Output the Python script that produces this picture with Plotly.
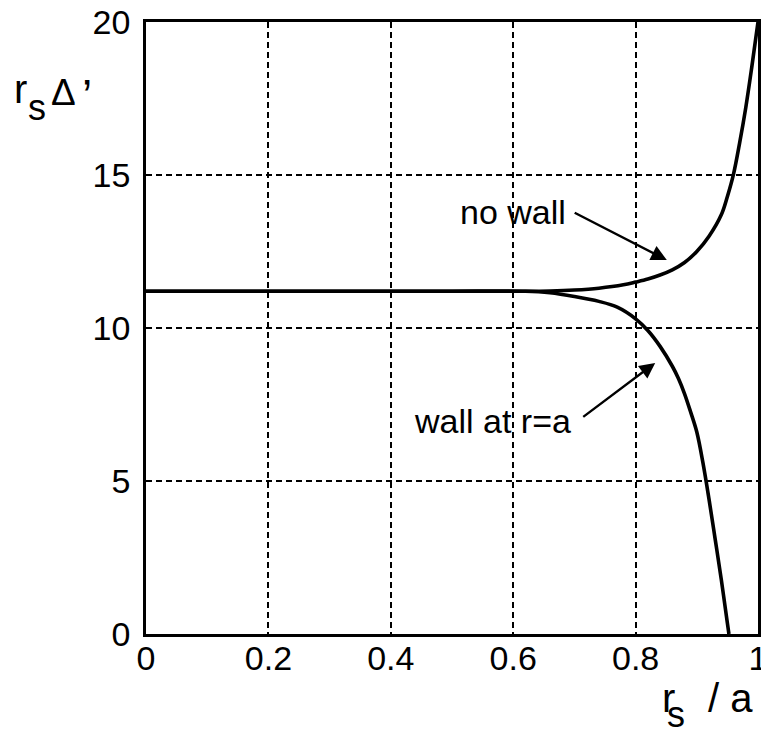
import plotly.graph_objects as go

# Data
x_nowall = [0.0, 0.1, 0.2, 0.3, 0.4, 0.5, 0.62, 0.66, 0.70, 0.74, 0.78, 0.80, 0.82, 0.84,
            0.86, 0.88, 0.90, 0.92, 0.94, 0.95, 0.96, 0.97, 0.98, 0.99, 1.0]
y_nowall = [11.2, 11.2, 11.2, 11.2, 11.2, 11.2, 11.2, 11.21, 11.24, 11.3, 11.41, 11.5, 11.6, 11.73,
            11.9, 12.14, 12.5, 13.0, 13.7, 14.3, 15.03, 16.05, 17.2, 18.55, 20.0]

x_wall = [0.0, 0.1, 0.2, 0.3, 0.4, 0.5, 0.62, 0.66, 0.70, 0.74, 0.77, 0.80, 0.82, 0.84,
          0.86, 0.87, 0.88, 0.89, 0.90, 0.91, 0.92, 0.93, 0.94, 0.95, 0.9525]
y_wall = [11.2, 11.2, 11.2, 11.2, 11.2, 11.2, 11.2, 11.15, 11.03, 10.87, 10.68, 10.3, 9.92, 9.4,
          8.75, 8.35, 7.85, 7.25, 6.6, 5.6, 4.4, 3.1, 1.78, 0.35, 0.0]

x_ticks = [0, 0.2, 0.4, 0.6, 0.8, 1]
x_tick_labels = ["0", "0.2", "0.4", "0.6", "0.8", "1"]
y_ticks = [0, 5, 10, 15, 20]
y_tick_labels = ["0", "5", "10", "15", "20"]

FONT = "Liberation Sans, Arial, Helvetica, sans-serif"
BLACK = "black"

fig = go.Figure()
for xs, ys in ((x_nowall, y_nowall), (x_wall, y_wall)):
    fig.add_trace(go.Scatter(x=xs, y=ys, mode="lines",
                             line=dict(color=BLACK, width=3.6, shape="spline", smoothing=1.0),
                             showlegend=False, hoverinfo="skip"))

axis_common = dict(showline=True, mirror=True, linecolor=BLACK, linewidth=2.8,
                   showgrid=True, gridcolor=BLACK, gridwidth=1.6, griddash="6px,4px",
                   zeroline=False, ticks="", ticklabeloverflow="allow",
                   tickfont=dict(family=FONT, size=34, color=BLACK))

fig.update_xaxes(range=[0, 1], tickvals=x_ticks, ticktext=x_tick_labels,
                 ticklabelstandoff=-8, **axis_common)
fig.update_yaxes(range=[0, 20], tickvals=y_ticks, ticktext=y_tick_labels,
                 ticklabelstandoff=6, **axis_common)

# arrows
fig.add_annotation(x=0.851, y=12.22, ax=0.698, ay=13.79, xref="x", yref="y",
                   axref="x", ayref="y", text="", showarrow=True,
                   arrowhead=2, arrowsize=1.3, arrowwidth=2.4, arrowcolor=BLACK)
fig.add_annotation(x=0.832, y=8.86, ax=0.712, ay=7.06, xref="x", yref="y",
                   axref="x", ayref="y", text="", showarrow=True,
                   arrowhead=2, arrowsize=1.3, arrowwidth=2.4, arrowcolor=BLACK)
# labels
fig.add_annotation(x=0.6895, y=13.79, xref="x", yref="y", text="no wall",
                   showarrow=False, xanchor="right", yanchor="middle",
                   font=dict(family=FONT, size=34, color=BLACK))
fig.add_annotation(x=0.698, y=6.96, xref="x", yref="y", text="wall at r=a",
                   showarrow=False, xanchor="right", yanchor="middle",
                   font=dict(family=FONT, size=34, color=BLACK))

# y-axis title: r_s Δ'
fig.add_annotation(x=-0.219, y=0.8905, xref="paper", yref="paper", text="r",
                   showarrow=False, xanchor="left", yanchor="middle",
                   font=dict(family=FONT, size=40, color=BLACK))
fig.add_annotation(x=-0.196, y=0.8605, xref="paper", yref="paper", text="s",
                   showarrow=False, xanchor="left", yanchor="middle",
                   font=dict(family=FONT, size=36, color=BLACK))
fig.add_annotation(x=-0.134, y=0.8845, xref="paper", yref="paper", text="Δ",
                   showarrow=False, xanchor="center", yanchor="middle",
                   font=dict(family=FONT, size=37, color=BLACK))
fig.add_annotation(x=-0.108, y=0.8797, xref="paper", yref="paper", text="’",
                   showarrow=False, xanchor="left", yanchor="middle",
                   font=dict(family=FONT, size=46, color=BLACK))

# x-axis title: r_s / a
fig.add_annotation(x=0.8399, y=-0.1046, xref="paper", yref="paper", text="r",
                   showarrow=False, xanchor="left", yanchor="middle",
                   font=dict(family=FONT, size=40, color=BLACK))
fig.add_annotation(x=0.848, y=-0.1315, xref="paper", yref="paper", text="s",
                   showarrow=False, xanchor="left", yanchor="middle",
                   font=dict(family=FONT, size=36, color=BLACK))
fig.add_annotation(x=0.915, y=-0.1046, xref="paper", yref="paper", text="/ a",
                   showarrow=False, xanchor="left", yanchor="middle",
                   font=dict(family=FONT, size=40, color=BLACK))

fig.update_layout(width=761, height=731,
                  margin=dict(l=146, r=3, t=22, b=97, autoexpand=False),
                  plot_bgcolor="white", paper_bgcolor="white",
                  showlegend=False)

fig.write_html("out.html", config={"displayModeBar": False},
               post_script="document.body.style.margin='0';document.body.style.overflow='hidden';")
